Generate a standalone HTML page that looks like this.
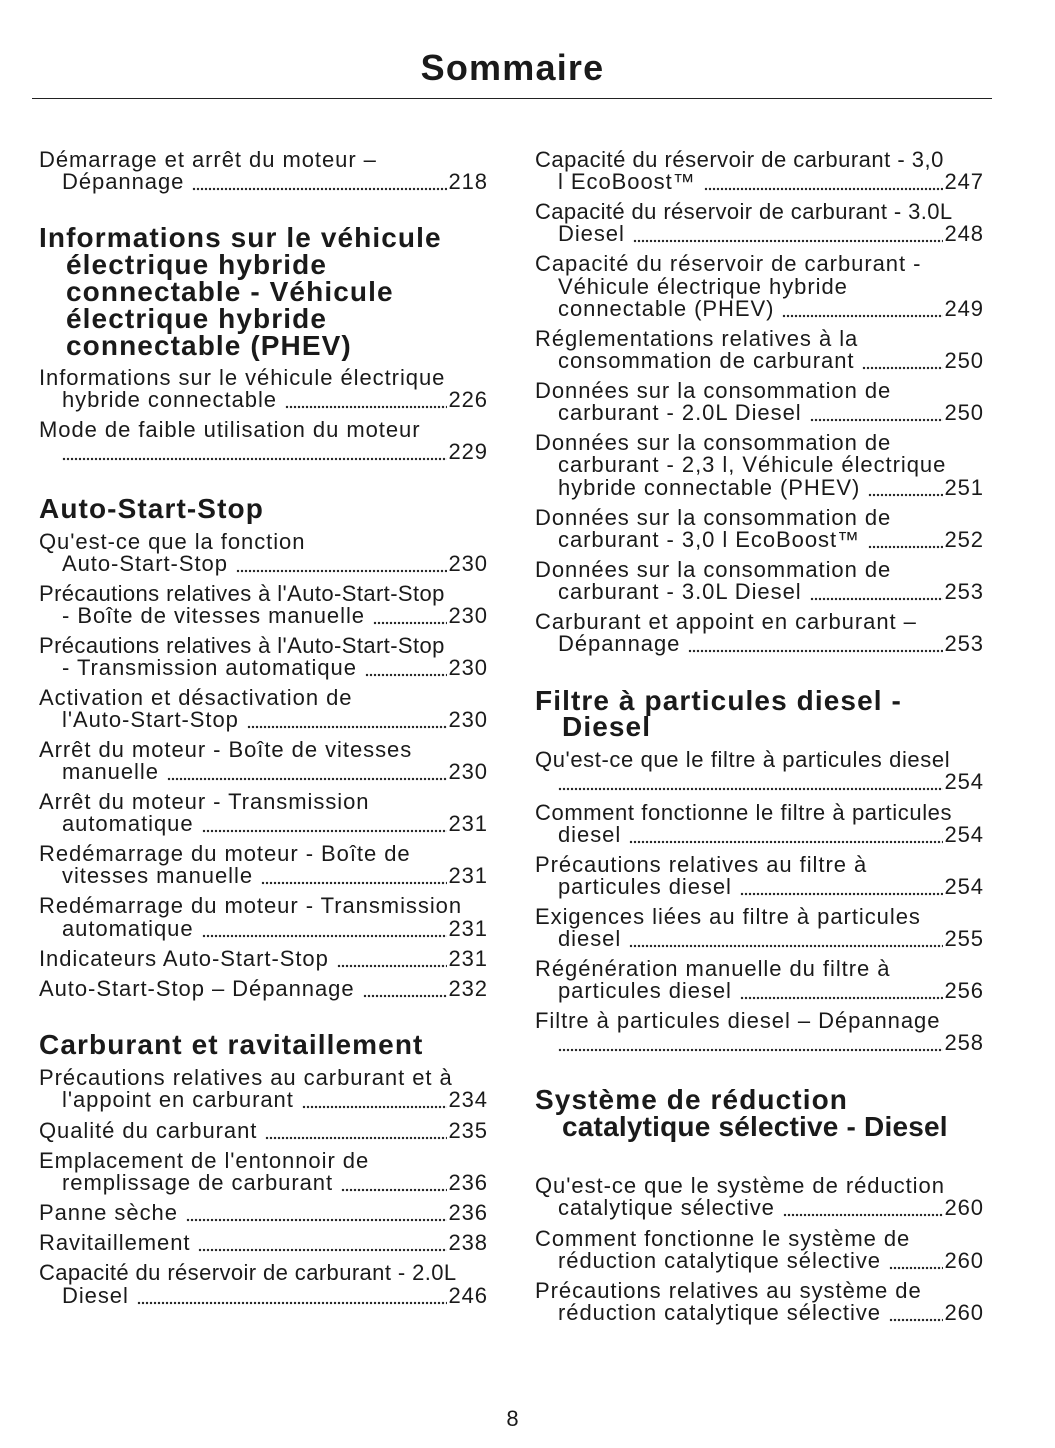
<!DOCTYPE html>
<html><head><meta charset="utf-8"><style>
*{margin:0;padding:0;box-sizing:border-box}
body{width:1055px;height:1448px;background:#fff;position:relative;font-family:"Liberation Sans",sans-serif;color:#1a1a1a;overflow:hidden}
.t{position:absolute;left:-15px;width:1055px;text-align:center;top:47px;font-size:36px;font-weight:bold;letter-spacing:1.2px}
.rule{position:absolute;left:32px;top:98px;width:960px;height:1px;background:#222}
.a,.b{position:absolute;height:22px;line-height:22px;font-size:22px;letter-spacing:0.95px;white-space:nowrap;display:flex}
.a{left:39px;width:449px}.b{left:535px;width:449px}
.i{padding-left:23px}
.f{flex:1;margin:0 1px 0 8px;background:radial-gradient(circle,#222 1px,transparent 1.4px) repeat-x;background-size:4px 4px;background-position:0 16px}
.h{position:absolute;font-size:28px;font-weight:bold;line-height:27px;height:27px;white-space:nowrap;letter-spacing:1.1px}
.pg{position:absolute;top:1406px;left:-15px;width:1055px;text-align:center;font-size:22px}
</style></head><body>
<div class="t">Sommaire</div><div class="rule"></div>

<div class="a" style="top:149px">Démarrage et arrêt du moteur –</div>
<div class="a i" style="top:171px">Dépannage<span class="f"></span>218</div>
<div class="h" style="left:39px;top:224px">Informations sur le véhicule</div>
<div class="h" style="left:66px;top:251px">électrique hybride</div>
<div class="h" style="left:66px;top:278px">connectable - Véhicule</div>
<div class="h" style="left:66px;top:305px">électrique hybride</div>
<div class="h" style="left:66px;top:332px">connectable (PHEV)</div>
<div class="a" style="top:367px">Informations sur le véhicule électrique</div>
<div class="a i" style="top:389px">hybride connectable<span class="f"></span>226</div>
<div class="a" style="top:419px">Mode de faible utilisation du moteur</div>
<div class="a i" style="top:441px"><span class="f" style="margin-left:0"></span>229</div>
<div class="h" style="left:39px;top:495px">Auto-Start-Stop</div>
<div class="a" style="top:531px">Qu'est-ce que la fonction</div>
<div class="a i" style="top:553px">Auto-Start-Stop<span class="f"></span>230</div>
<div class="a" style="top:583px;letter-spacing:0.4px">Précautions relatives à l'Auto-Start-Stop</div>
<div class="a i" style="top:605px">- Boîte de vitesses manuelle<span class="f"></span>230</div>
<div class="a" style="top:635px;letter-spacing:0.4px">Précautions relatives à l'Auto-Start-Stop</div>
<div class="a i" style="top:657px">- Transmission automatique<span class="f"></span>230</div>
<div class="a" style="top:687px">Activation et désactivation de</div>
<div class="a i" style="top:709px">l'Auto-Start-Stop<span class="f"></span>230</div>
<div class="a" style="top:739px">Arrêt du moteur - Boîte de vitesses</div>
<div class="a i" style="top:761px">manuelle<span class="f"></span>230</div>
<div class="a" style="top:791px">Arrêt du moteur - Transmission</div>
<div class="a i" style="top:813px">automatique<span class="f"></span>231</div>
<div class="a" style="top:843px">Redémarrage du moteur - Boîte de</div>
<div class="a i" style="top:865px">vitesses manuelle<span class="f"></span>231</div>
<div class="a" style="top:895px">Redémarrage du moteur - Transmission</div>
<div class="a i" style="top:918px">automatique<span class="f"></span>231</div>
<div class="a" style="top:948px">Indicateurs Auto-Start-Stop<span class="f"></span>231</div>
<div class="a" style="top:978px">Auto-Start-Stop – Dépannage<span class="f"></span>232</div>
<div class="h" style="left:39px;top:1031px">Carburant et ravitaillement</div>
<div class="a" style="top:1067px">Précautions relatives au carburant et à</div>
<div class="a i" style="top:1089px">l'appoint en carburant<span class="f"></span>234</div>
<div class="a" style="top:1120px">Qualité du carburant<span class="f"></span>235</div>
<div class="a" style="top:1150px">Emplacement de l'entonnoir de</div>
<div class="a i" style="top:1172px">remplissage de carburant<span class="f"></span>236</div>
<div class="a" style="top:1202px">Panne sèche<span class="f"></span>236</div>
<div class="a" style="top:1232px">Ravitaillement<span class="f"></span>238</div>
<div class="a" style="top:1262px;letter-spacing:0.4px">Capacité du réservoir de carburant - 2.0L</div>
<div class="a i" style="top:1285px">Diesel<span class="f"></span>246</div>

<div class="b" style="top:149px;letter-spacing:0.5px">Capacité du réservoir de carburant - 3,0</div>
<div class="b i" style="top:171px">l EcoBoost™<span class="f"></span>247</div>
<div class="b" style="top:201px;letter-spacing:0.4px">Capacité du réservoir de carburant - 3.0L</div>
<div class="b i" style="top:223px">Diesel<span class="f"></span>248</div>
<div class="b" style="top:253px">Capacité du réservoir de carburant -</div>
<div class="b i" style="top:276px">Véhicule électrique hybride</div>
<div class="b i" style="top:298px">connectable (PHEV)<span class="f"></span>249</div>
<div class="b" style="top:328px">Réglementations relatives à la</div>
<div class="b i" style="top:350px">consommation de carburant<span class="f"></span>250</div>
<div class="b" style="top:380px">Données sur la consommation de</div>
<div class="b i" style="top:402px">carburant - 2.0L Diesel<span class="f"></span>250</div>
<div class="b" style="top:432px">Données sur la consommation de</div>
<div class="b i" style="top:454px">carburant - 2,3 l, Véhicule électrique</div>
<div class="b i" style="top:477px">hybride connectable (PHEV)<span class="f"></span>251</div>
<div class="b" style="top:507px">Données sur la consommation de</div>
<div class="b i" style="top:529px">carburant - 3,0 l EcoBoost™<span class="f"></span>252</div>
<div class="b" style="top:559px">Données sur la consommation de</div>
<div class="b i" style="top:581px">carburant - 3.0L Diesel<span class="f"></span>253</div>
<div class="b" style="top:611px">Carburant et appoint en carburant –</div>
<div class="b i" style="top:633px">Dépannage<span class="f"></span>253</div>
<div class="h" style="left:535px;top:687px">Filtre à particules diesel -</div>
<div class="h" style="left:562px;top:713px">Diesel</div>
<div class="b" style="top:749px;letter-spacing:0.6px">Qu'est-ce que le filtre à particules diesel</div>
<div class="b i" style="top:771px"><span class="f" style="margin-left:0"></span>254</div>
<div class="b" style="top:802px;letter-spacing:0.6px">Comment fonctionne le filtre à particules</div>
<div class="b i" style="top:824px">diesel<span class="f"></span>254</div>
<div class="b" style="top:854px">Précautions relatives au filtre à</div>
<div class="b i" style="top:876px">particules diesel<span class="f"></span>254</div>
<div class="b" style="top:906px">Exigences liées au filtre à particules</div>
<div class="b i" style="top:928px">diesel<span class="f"></span>255</div>
<div class="b" style="top:958px">Régénération manuelle du filtre à</div>
<div class="b i" style="top:980px">particules diesel<span class="f"></span>256</div>
<div class="b" style="top:1010px">Filtre à particules diesel – Dépannage</div>
<div class="b i" style="top:1032px"><span class="f" style="margin-left:0"></span>258</div>
<div class="h" style="left:535px;top:1086px">Système de réduction</div>
<div class="h" style="left:562px;top:1113px;letter-spacing:0.2px">catalytique sélective - Diesel</div>
<div class="b" style="top:1175px">Qu'est-ce que le système de réduction</div>
<div class="b i" style="top:1197px">catalytique sélective<span class="f"></span>260</div>
<div class="b" style="top:1228px">Comment fonctionne le système de</div>
<div class="b i" style="top:1250px">réduction catalytique sélective<span class="f"></span>260</div>
<div class="b" style="top:1280px">Précautions relatives au système de</div>
<div class="b i" style="top:1302px">réduction catalytique sélective<span class="f"></span>260</div>

<div class="pg">8</div>
</body></html>
